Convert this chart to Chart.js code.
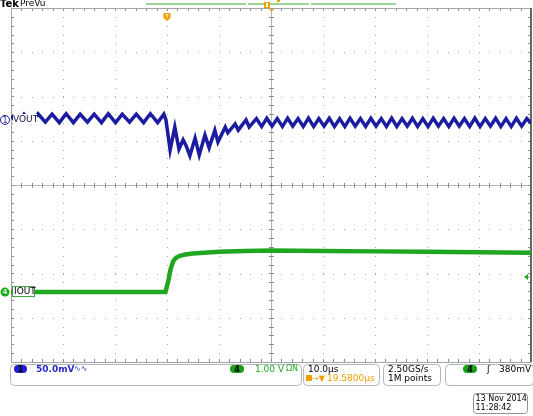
<!DOCTYPE html>
<html>
<head>
<meta charset="utf-8">
<script src="https://cdn.jsdelivr.net/npm/chart.js@4.4.0/dist/chart.umd.min.js"></script>
<style>
  html, body { margin: 0; padding: 0; background: #fff; }
  canvas { display: block; }
</style>
</head>
<body>
<canvas id="scope" width="533" height="416"></canvas>
<script>
// time in µs (screen centre = 0), amplitude in divisions
const xTicks = [-50, -40, -30, -20, -10, 0, 10, 20, 30, 40, 50];
const yTicks = [-4, -3, -2, -1, 0, 1, 2, 3, 4];

// CH1 VOUT (50 mV/div, AC)
const voutTime = [
  -50, -48.8, -47.5, -46.1, -44.8, -43.4, -42.1, -40.7, -39.4, -38.0, -36.7, -35.3,
  -34.0, -32.6, -31.3, -29.9, -28.6, -27.2, -25.9, -24.5, -23.2, -21.8, -20.6,
  -20.2, -19.4, -18.5, -17.7, -16.9, -16.3, -15.6, -14.6, -13.8, -12.7, -11.9, -10.8,
  -10.2, -8.8, -8.3, -6.9, -6.3, -4.8, -4.2,
  -2.8, -1.8, -0.8, 0.2, 1.2, 2.2, 3.2, 4.2, 5.2, 6.2, 7.2, 8.2, 9.2, 10.2, 11.2, 12.2,
  13.2, 14.2, 15.2, 16.2, 17.2, 18.2, 19.2, 20.2, 21.2, 22.2, 23.2, 24.2, 25.2, 26.2,
  27.2, 28.2, 29.2, 30.2, 31.2, 32.2, 33.2, 34.2, 35.2, 36.2, 37.2, 38.2, 39.2, 40.2,
  41.2, 42.2, 43.2, 44.2, 45.2, 46.2, 47.2, 48.2, 49.2, 50
];
const voutDiv = [
  1.56, 1.41, 1.60, 1.41, 1.61, 1.42, 1.60, 1.41, 1.61, 1.41, 1.60, 1.42,
  1.60, 1.41, 1.61, 1.41, 1.60, 1.42, 1.60, 1.41, 1.61, 1.41, 1.60,
  1.47, 0.79, 1.31, 0.81, 1.02, 0.88, 0.66, 1.06, 0.68, 1.13, 0.84, 1.24,
  0.97, 1.31, 1.18, 1.38, 1.24, 1.47, 1.31,
  1.50, 1.32, 1.51, 1.33, 1.50, 1.32, 1.51, 1.33, 1.50, 1.32, 1.51, 1.32, 1.50, 1.33, 1.51, 1.32,
  1.50, 1.32, 1.51, 1.33, 1.50, 1.32, 1.51, 1.33, 1.50, 1.32, 1.51, 1.32, 1.50, 1.33,
  1.51, 1.32, 1.50, 1.32, 1.51, 1.33, 1.50, 1.32, 1.51, 1.33, 1.50, 1.32, 1.51, 1.32,
  1.50, 1.33, 1.51, 1.32, 1.50, 1.32, 1.51, 1.33, 1.50, 1.40
];

// CH4 IOUT (1.00 V/div)
const ioutTime = [-50, -20.3, -19.8, -19.3, -18.8, -18.2, -17.5, -16.5, -15, -13, -10, -5, 0, 10, 20, 30, 40, 50];
const ioutDiv = [-2.42, -2.42, -2.2, -1.9, -1.72, -1.64, -1.6, -1.57, -1.55, -1.53, -1.51, -1.49, -1.48, -1.49, -1.5, -1.51, -1.52, -1.53];

// markers
const ch1Offset = 1.47;
const ch4Offset = -2.42;
const trigLevel = -2.08;
const trigTime = -20;

const blue = '#1c1ca0';
const green = '#1fa81f';
const orange = '#f0a000';
const font = '"DejaVu Sans", sans-serif';

function pill(ctx, x, y, w, h, fill, label, txt) {
  ctx.fillStyle = fill;
  ctx.beginPath();
  ctx.roundRect(x, y, w, h, h / 2);
  ctx.fill();
  ctx.fillStyle = txt;
  ctx.font = 'bold 8px ' + font;
  ctx.textAlign = 'center';
  ctx.textBaseline = 'middle';
  ctx.fillText(label, x + w / 2, y + h / 2 + 0.5);
  ctx.textAlign = 'left';
}

const gridPlugin = {
  id: 'grid',
  beforeDatasetsDraw(chart) {
    const { ctx, chartArea: a, scales: { x, y } } = chart;
    const dx = x.getPixelForValue(10) - x.getPixelForValue(0);
    const dy = y.getPixelForValue(0) - y.getPixelForValue(1);
    const cx = x.getPixelForValue(0);
    const cy = y.getPixelForValue(0);
    ctx.save();
    // dotted graticule
    ctx.fillStyle = '#a8a8a8';
    xTicks.forEach((t) => {
      const px = Math.round(x.getPixelForValue(t));
      if (t === 0 || t === -50 || t === 50) return;
      for (let py = a.top; py <= a.bottom; py += dy / 5) ctx.fillRect(px, Math.round(py), 1, 1);
    });
    yTicks.forEach((v) => {
      const py = Math.round(y.getPixelForValue(v));
      if (v === 0 || v === 4 || v === -4) return;
      for (let px = a.left; px <= a.right; px += dx / 5) ctx.fillRect(Math.round(px), py, 1, 1);
    });
    // centre cross
    ctx.strokeStyle = '#b4b4b4';
    ctx.lineWidth = 1;
    ctx.beginPath();
    ctx.moveTo(Math.round(cx) + 0.5, a.top);
    ctx.lineTo(Math.round(cx) + 0.5, a.bottom);
    ctx.moveTo(a.left, Math.round(cy) + 0.5);
    ctx.lineTo(a.right, Math.round(cy) + 0.5);
    ctx.stroke();
    ctx.strokeStyle = '#8c8c8c';
    ctx.beginPath();
    for (let py = a.top; py <= a.bottom + 0.5; py += dy / 5) {
      const r = Math.round(py) + 0.5;
      ctx.moveTo(Math.round(cx) - 2, r); ctx.lineTo(Math.round(cx) + 3, r);
      ctx.moveTo(a.left, r); ctx.lineTo(a.left + 3, r);
      ctx.moveTo(a.right - 3, r); ctx.lineTo(a.right, r);
    }
    for (let px = a.left; px <= a.right + 0.5; px += dx / 5) {
      const r = Math.round(px) + 0.5;
      ctx.moveTo(r, Math.round(cy) - 2); ctx.lineTo(r, Math.round(cy) + 3);
      ctx.moveTo(r, a.top); ctx.lineTo(r, a.top + 3);
      ctx.moveTo(r, a.bottom - 3); ctx.lineTo(r, a.bottom);
    }
    ctx.stroke();
    // frame
    ctx.strokeStyle = '#a0a4ac';
    ctx.strokeRect(a.left + 0.5, a.top + 0.5, a.right - a.left - 1, a.bottom - a.top);
    ctx.strokeStyle = '#5e6a5e';
    ctx.lineWidth = 2;
    ctx.beginPath();
    ctx.moveTo(a.right, a.top);
    ctx.lineTo(a.right, a.bottom);
    ctx.stroke();
    ctx.restore();
  },
  afterDraw(chart) {
    const { ctx, chartArea: a, scales: { x, y } } = chart;
    ctx.save();
    ctx.textBaseline = 'middle';

    // header
    ctx.fillStyle = '#000';
    ctx.font = 'bold 10px ' + font;
    ctx.fillText('Tek', 0, 4);
    ctx.font = '9px ' + font;
    ctx.fillText('PreVu', 20, 4);

    // record view bar
    ctx.strokeStyle = '#78c878';
    ctx.lineWidth = 1.5;
    ctx.beginPath();
    ctx.moveTo(146, 4); ctx.lineTo(246, 4);
    ctx.moveTo(248, 4); ctx.lineTo(309, 4);
    ctx.moveTo(311, 4); ctx.lineTo(396, 4);
    ctx.stroke();
    ctx.fillStyle = orange;
    ctx.fillRect(264, 2, 6, 6);
    ctx.fillRect(277, 0, 3, 2);
    ctx.beginPath();
    ctx.moveTo(269, 9); ctx.lineTo(274, 9); ctx.lineTo(271.5, 12); ctx.fill();
    ctx.fillStyle = '#fff';
    ctx.fillRect(266, 3, 2, 4);

    // trigger position marker
    const tx = x.getPixelForValue(trigTime);
    ctx.fillStyle = orange;
    ctx.beginPath();
    ctx.moveTo(tx - 3.5, 13); ctx.lineTo(tx + 3.5, 13); ctx.lineTo(tx + 3.5, 18);
    ctx.lineTo(tx, 21); ctx.lineTo(tx - 3.5, 18); ctx.closePath(); ctx.fill();
    ctx.fillStyle = '#fff3c0';
    ctx.fillRect(tx - 1.5, 14, 3, 1);
    ctx.fillRect(tx - 0.5, 14, 1, 4);

    // CH1 ground marker + label
    const y1 = y.getPixelForValue(ch1Offset);
    ctx.strokeStyle = blue;
    ctx.lineWidth = 1;
    ctx.beginPath();
    ctx.arc(5, y1, 4.5, 0, Math.PI * 2);
    ctx.stroke();
    ctx.fillStyle = blue;
    ctx.font = '8px ' + font;
    ctx.textAlign = 'center';
    ctx.fillText('1', 5, y1 + 0.5);
    ctx.textAlign = 'left';
    ctx.fillStyle = '#fff';
    ctx.fillRect(13, y1 - 6, 24, 11);
    ctx.fillStyle = '#101040';
    ctx.font = '9px ' + font;
    ctx.fillText('VOUT', 13, y1);

    // CH4 ground marker + label
    const y4 = y.getPixelForValue(ch4Offset);
    ctx.fillStyle = green;
    ctx.beginPath();
    ctx.arc(5, y4, 4.5, 0, Math.PI * 2);
    ctx.fill();
    ctx.fillStyle = '#d8f8d8';
    ctx.font = 'bold 7px ' + font;
    ctx.textAlign = 'center';
    ctx.fillText('4', 5, y4 + 0.5);
    ctx.textAlign = 'left';
    ctx.fillStyle = '#fff';
    ctx.fillRect(12, y4 - 6, 23, 11);
    ctx.strokeStyle = '#3a9a3a';
    ctx.strokeRect(12.5, y4 - 5.5, 22, 10);
    ctx.fillStyle = '#000';
    ctx.font = '9px ' + font;
    ctx.fillText('IOUT', 14, y4);

    // trigger level arrow
    const yt = y.getPixelForValue(trigLevel);
    ctx.fillStyle = green;
    ctx.beginPath();
    ctx.moveTo(a.right - 7, yt); ctx.lineTo(a.right - 3, yt - 3); ctx.lineTo(a.right - 3, yt + 3);
    ctx.closePath(); ctx.fill();
    ctx.fillRect(a.right - 4, yt - 0.5, 2, 1);

    // status bar
    ctx.strokeStyle = '#b4b8b4';
    ctx.lineWidth = 1;
    [[10.5, 364.5, 291, 21], [303.5, 364.5, 76, 21], [383.5, 364.5, 57, 21], [445.5, 364.5, 88, 21]]
      .forEach(([bx, by, bw, bh]) => {
        ctx.beginPath();
        ctx.roundRect(bx, by, bw, bh, 4);
        ctx.stroke();
      });
    pill(ctx, 14, 365, 13, 8, '#2020d0', '1', '#000');
    ctx.fillStyle = '#2828c8';
    ctx.font = 'bold 9px ' + font;
    ctx.fillText('50.0mV', 36, 369.5);
    ctx.font = '8px ' + font;
    ctx.fillText('\u223F\u223F', 74, 369);
    pill(ctx, 230, 365, 14, 8, '#18a018', '4', '#000');
    ctx.fillStyle = green;
    ctx.font = '9px ' + font;
    ctx.fillText('1.00 V', 255, 369.5);
    ctx.font = '8px ' + font;
    ctx.fillText('\u03A9N', 286, 369);

    ctx.fillStyle = '#000';
    ctx.font = '9px ' + font;
    ctx.fillText('10.0\u00B5s', 308, 369.5);
    ctx.fillStyle = orange;
    ctx.fillRect(306, 375, 6, 6);
    ctx.font = '8px ' + font;
    ctx.fillText('\u2192\u25BC', 312, 378.5);
    ctx.font = '9px ' + font;
    ctx.fillText('19.5800\u00B5s', 327, 378.5);

    ctx.fillStyle = '#000';
    ctx.fillText('2.50GS/s', 388, 369.5);
    ctx.fillText('1M points', 388, 378.5);

    pill(ctx, 463, 365, 14, 8, '#18a018', '4', '#000');
    ctx.fillStyle = '#000';
    ctx.font = '9px ' + font;
    ctx.fillText('\u0283', 487, 369.5);
    ctx.fillText('380mV', 499, 369.5);

    // date box
    ctx.strokeStyle = '#8a9a8a';
    ctx.beginPath();
    ctx.roundRect(473.5, 393.5, 54, 20, 3);
    ctx.stroke();
    ctx.fillStyle = '#000';
    ctx.font = '8px ' + font;
    ctx.fillText('13 Nov 2014', 475.5, 399);
    ctx.fillText('11:28:42', 475.5, 408);
    ctx.restore();
  },
};

const ctx = document.getElementById('scope').getContext('2d');
new Chart(ctx, {
  type: 'scatter',
  data: {
    datasets: [
      {
        label: 'IOUT',
        data: ioutTime.map((t, i) => ({ x: t, y: ioutDiv[i] })),
        showLine: true,
        borderColor: green,
        borderWidth: 4.5,
        pointRadius: 0,
        tension: 0,
      },
      {
        label: 'VOUT',
        data: voutTime.map((t, i) => ({ x: t, y: voutDiv[i] })),
        showLine: true,
        borderColor: blue,
        borderWidth: 3.5,
        pointRadius: 0,
        tension: 0,
      },
    ],
  },
  options: {
    responsive: false,
    animation: false,
    layout: { padding: { left: 11, top: 8, right: 2, bottom: 54 } },
    plugins: { legend: { display: false }, tooltip: { enabled: false } },
    scales: {
      x: { type: 'linear', min: -50, max: 50, display: false },
      y: { min: -4, max: 4, display: false },
    },
  },
  plugins: [gridPlugin],
});
</script>
</body>
</html>
